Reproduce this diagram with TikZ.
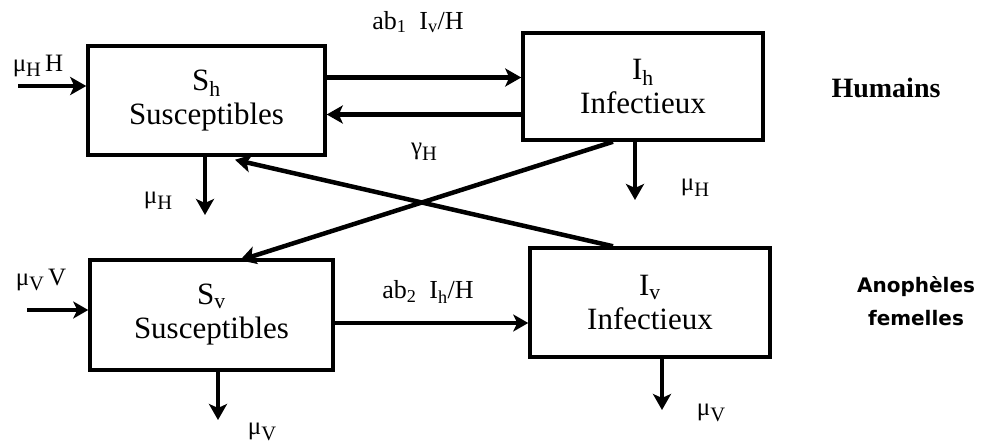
\documentclass[tikz,border=0pt]{standalone}
\usepackage{fontspec}
\setmainfont{Liberation Serif}
\newfontfamily\anofont{DejaVu Sans}
\usetikzlibrary{arrows.meta}
\newcommand\dnsub[1]{\raisebox{-0.22em}{\scalebox{0.82}{#1}}}
\begin{document}
\begin{tikzpicture}[x=1pt,y=-1pt,
  box/.style={draw, line width=3.5pt, align=center, inner sep=0pt,
    font=\fontsize{31}{34}\selectfont},
  arr/.style={line width=4.5pt, -{Stealth[length=16pt,width=18pt,inset=4pt]}},
  thinarr/.style={line width=3.5pt, -{Stealth[length=15pt,width=17pt,inset=4pt]}},
  lbl/.style={font=\fontsize{25}{28}\selectfont, inner sep=0pt},
  toplbl/.style={font=\fontsize{26}{30}\selectfont, inner sep=0pt}]
\useasboundingbox (0,0) rectangle (982,443);

% boxes
\node[box, minimum width=237pt, minimum height=109pt] (Sh) at (206.5,100.5) {S\textsubscript{h}\\Susceptibles};
\node[box, minimum width=240pt, minimum height=107pt] (Ih) at (643,86.5) {I\textsubscript{h}\\Infectieux};
\node[box, minimum width=243pt, minimum height=110pt] (Sv) at (211.5,315) {S\textsubscript{v}\\Susceptibles};
\node[box, minimum width=240pt, minimum height=109pt] (Iv) at (650,302.5) {I\textsubscript{v}\\Infectieux};

% free ends
\coordinate (inH) at (18,86);
\coordinate (inV) at (27,310);
\coordinate (outSh) at (205,215);
\coordinate (outIh) at (635,200);
\coordinate (outSv) at (218,420);
\coordinate (outIv) at (662,410);

% input arrows
\draw[arr] (inH) -- (inH -| Sh.west);
\draw[thinarr] (inV) -- (inV -| Sv.west);

% horizontal transfers
\draw[arr] ([yshift=23pt]Sh.east) -- ([yshift=23pt]Sh.east -| Ih.west);
\draw[arr] ([yshift=-28pt]Ih.west) -- ([yshift=-28pt]Ih.west -| Sh.east);
\draw[thinarr] ([yshift=-8pt]Sv.east) -- ([yshift=-8pt]Sv.east -| Iv.west);

% crossing arrows
\draw[arr] ([xshift=-30pt]Ih.south) -- ([xshift=28.5pt,yshift=-2pt]Sv.north);
\draw[arr] ([xshift=-37pt]Iv.north) -- ([xshift=28.5pt,yshift=-3pt]Sh.south);

% outflows
\draw[arr] (Sh.south -| outSh) -- (outSh);
\draw[arr] (Ih.south -| outIh) -- (outIh);
\draw[arr] (Sv.south -| outSv) -- (outSv);
\draw[arr] (Iv.south -| outIv) -- (outIv);

% labels
\node[lbl] (lInH) at (38,66) {μ\dnsub{H}\,H};
\node[toplbl] (lab1) at (418,22) {ab\textsubscript{1}\ \ I\textsubscript{v}/H};
\node[lbl] (lgam) at (424,152) {γ\dnsub{H}};
\node[lbl] (lmuSh) at (158,201) {μ\dnsub{H}};
\node[lbl] (lmuIh) at (695,188) {μ\dnsub{H}};
\node[lbl] (lInV) at (41,280) {μ\dnsub{V}\,V};
\node[toplbl] (lab2) at (428,292) {ab\textsubscript{2}\ \ I\textsubscript{h}/H};
\node[lbl] (lmuSv) at (262,432) {μ\dnsub{V}};
\node[lbl] (lmuIv) at (711,413) {μ\dnsub{V}};

\node[font=\fontsize{28}{32}\selectfont\bfseries, inner sep=0pt] (hum) at (886,88) {Humains};
\node[font=\anofont\fontsize{20}{33}\selectfont\bfseries, align=center, inner sep=0pt] (ano) at (916,301) {Anophèles\\femelles};
\end{tikzpicture}
\end{document}
